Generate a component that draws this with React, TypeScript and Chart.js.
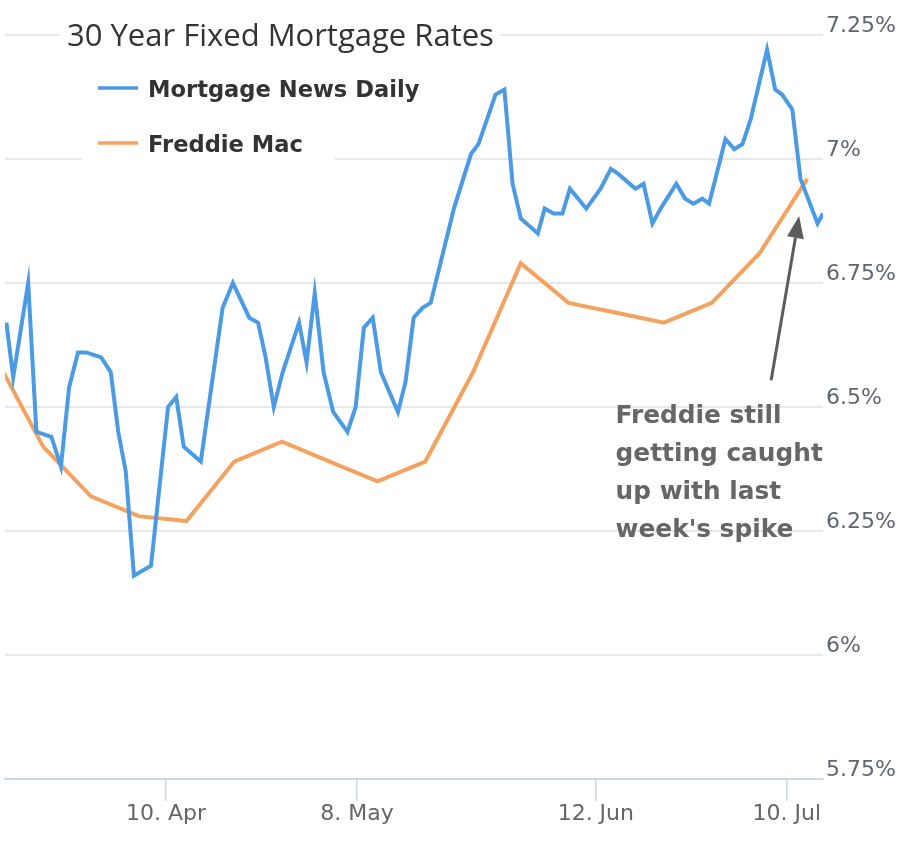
import React, { useEffect, useRef } from "react";
import { Chart, registerables } from "chart.js";

Chart.register(...registerables);

// x values are days relative to 10 Apr 2023
const mndDays = [
  -23.4, -22.4, -20.2, -19.0, -16.8, -15.4, -14.2, -12.9, -11.7, -9.5,
  -8.1, -7.0, -5.9, -4.7, -2.2, 0.3, 1.5, 2.6, 5.1, 8.3,
  9.8, 12.2, 13.5, 14.6, 15.8, 17.1, 19.5, 20.6, 21.8, 23.1,
  24.5, 26.6, 27.8, 29.0, 30.3, 31.5, 34.0, 35.1, 36.3, 37.6,
  38.8, 42.2, 44.7, 45.8, 48.3, 49.6, 50.8, 52.0, 54.5, 55.5,
  56.8, 58.1, 59.2, 61.6, 63.7, 65.2, 66.3, 68.8, 70.0, 71.3,
  72.5, 74.8, 76.1, 77.3, 78.6, 79.6, 82.0, 83.3, 84.5, 85.7,
  88.1, 89.3, 90.3, 91.8, 93.0, 95.5, 96.3,
];
const mndRates = [
  6.67, 6.56, 6.75, 6.45, 6.44, 6.38, 6.54, 6.61, 6.61, 6.60,
  6.57, 6.45, 6.37, 6.16, 6.18, 6.50, 6.52, 6.42, 6.39, 6.70,
  6.75, 6.68, 6.67, 6.60, 6.50, 6.57, 6.67, 6.59, 6.73, 6.57,
  6.49, 6.45, 6.50, 6.66, 6.68, 6.57, 6.49, 6.55, 6.68, 6.70,
  6.71, 6.90, 7.01, 7.03, 7.13, 7.14, 6.95, 6.88, 6.85, 6.90,
  6.89, 6.89, 6.94, 6.90, 6.94, 6.98, 6.97, 6.94, 6.95, 6.87,
  6.90, 6.95, 6.92, 6.91, 6.92, 6.91, 7.04, 7.02, 7.03, 7.08,
  7.22, 7.14, 7.13, 7.10, 6.96, 6.87, 6.89,
];
const fmDays = [-25, -18, -11, -4, 3, 10, 17, 24, 31, 38, 45, 52, 59, 66, 73, 80, 87, 94];
const fmRates = [6.60, 6.42, 6.32, 6.28, 6.27, 6.39, 6.43, 6.39, 6.35, 6.39, 6.57, 6.79, 6.71, 6.69, 6.67, 6.71, 6.81, 6.96];

const tickDays = [0, 28, 63, 91];
const tickLabels = ["10. Apr", "8. May", "12. Jun", "10. Jul"];

const titleText = "30 Year Fixed Mortgage Rates";
const seriesNames = ["Mortgage News Daily", "Freddie Mac"];
const seriesColors = ["#4a9be4", "#f4a25f"];
const noteLines = ["Freddie still", "getting caught", "up with last", "week's spike"];
// annotation anchors in data coordinates [day, rate]
const noteArrowTail = [88.7, 6.554];
const noteArrowTip = [92.8, 6.885];
const noteTextAnchor = [65.9, 6.467];

const overlayPlugin = {
  id: "overlay",
  afterDraw(chart: any) {
    const ctx = chart.ctx;
    const xs = chart.scales.x;
    const ys = chart.scales.y;
    ctx.save();
    // title
    ctx.fillStyle = "#ffffff";
    ctx.fillRect(60, 10, 440, 48);
    ctx.fillStyle = "#333333";
    ctx.font = "31px 'Open Sans'";
    ctx.textBaseline = "alphabetic";
    ctx.textAlign = "left";
    ctx.fillText(titleText, 67, 46);
    // legend
    ctx.fillStyle = "#ffffff";
    ctx.fillRect(82, 62, 253, 102);
    const legY = [88, 143];
    for (let i = 0; i < 2; i++) {
      ctx.strokeStyle = seriesColors[i];
      ctx.lineWidth = 3.5;
      ctx.beginPath();
      ctx.moveTo(98, legY[i]);
      ctx.lineTo(138, legY[i]);
      ctx.stroke();
      ctx.fillStyle = "#333333";
      ctx.font = "bold 22.6px 'DejaVu Sans'";
      ctx.fillText(seriesNames[i], 148, legY[i] + 9);
    }
    // annotation text
    ctx.fillStyle = "#666666";
    ctx.font = "bold 24.8px 'DejaVu Sans'";
    const tx = xs.getPixelForValue(noteTextAnchor[0]);
    const ty = ys.getPixelForValue(noteTextAnchor[1]);
    noteLines.forEach((l, i) => ctx.fillText(l, tx, ty + i * 38));
    // arrow
    const x0 = xs.getPixelForValue(noteArrowTail[0]);
    const y0 = ys.getPixelForValue(noteArrowTail[1]);
    const x1 = xs.getPixelForValue(noteArrowTip[0]);
    const y1 = ys.getPixelForValue(noteArrowTip[1]);
    const dx = x1 - x0, dy = y1 - y0;
    const len = Math.hypot(dx, dy);
    const ux = dx / len, uy = dy / len;
    const hl = 22, hw = 8.5;
    const bx = x1 - ux * hl, by = y1 - uy * hl;
    ctx.strokeStyle = "#5c5c5c";
    ctx.fillStyle = "#5c5c5c";
    ctx.lineWidth = 3;
    ctx.beginPath();
    ctx.moveTo(x0, y0);
    ctx.lineTo(bx, by);
    ctx.stroke();
    ctx.beginPath();
    ctx.moveTo(x1, y1);
    ctx.lineTo(bx - uy * hw, by + ux * hw);
    ctx.lineTo(bx + uy * hw, by - ux * hw);
    ctx.closePath();
    ctx.fill();
    ctx.restore();
  },
};

export default function App() {
  const ref = useRef<HTMLCanvasElement | null>(null);
  useEffect(() => {
    document.body.style.margin = "0";
    document.body.style.overflow = "hidden";
    const canvas = ref.current;
    if (!canvas) return;
    const chart = new Chart(canvas, {
      type: "line",
      data: {
        datasets: [
          {
            label: seriesNames[0],
            data: mndDays.map((d, i) => ({ x: d, y: mndRates[i] })),
            borderColor: seriesColors[0],
            borderWidth: 4,
            pointRadius: 0,
            tension: 0,
            fill: false,
          },
          {
            label: seriesNames[1],
            data: fmDays.map((d, i) => ({ x: d, y: fmRates[i] })),
            borderColor: seriesColors[1],
            borderWidth: 4,
            pointRadius: 0,
            tension: 0,
            fill: false,
          },
        ],
      },
      options: {
        animation: false,
        responsive: false,
        layout: { padding: { left: 5, top: 35, right: 0, bottom: 0 } },
        plugins: {
          legend: { display: false },
          title: { display: false },
          tooltip: { enabled: false },
        },
        scales: {
          x: {
            type: "linear",
            min: -23.6,
            max: 96.3,
            afterBuildTicks: (scale: any) => {
              scale.ticks = tickDays.map((v) => ({ value: v }));
            },
            afterFit: (scale: any) => {
              scale.height = 66;
            },
            grid: {
              drawOnChartArea: false,
              drawTicks: true,
              tickLength: 22,
              color: "#ccd6eb",
              lineWidth: 1.5,
            },
            border: { display: true, color: "#ccd6eb", width: 2 },
            ticks: {
              autoSkip: false,
              maxRotation: 0,
              padding: 0,
              color: "#666666",
              font: { family: "'DejaVu Sans'", size: 22 },
              callback: (v: any) => {
                const i = tickDays.indexOf(Number(v));
                return i >= 0 ? tickLabels[i] : "";
              },
            },
          },
          y: {
            position: "right",
            min: 5.75,
            max: 7.25,
            afterFit: (scale: any) => {
              scale.width = 91;
            },
            grid: {
              color: "#e8e8e8",
              lineWidth: 2,
              drawTicks: false,
            },
            border: { display: false },
            ticks: {
              stepSize: 0.25,
              padding: 3,
              labelOffset: -9,
              color: "#5f6672",
              font: { family: "'DejaVu Sans'", size: 22 },
              callback: (v: any) => `${parseFloat(Number(v).toFixed(2))}%`,
            },
          },
        },
      },
      plugins: [overlayPlugin],
    });
    return () => chart.destroy();
  }, []);
  return (
    <div style={{ width: 914, height: 845, position: "relative" }}>
      <canvas ref={ref} width={914} height={845} />
    </div>
  );
}
